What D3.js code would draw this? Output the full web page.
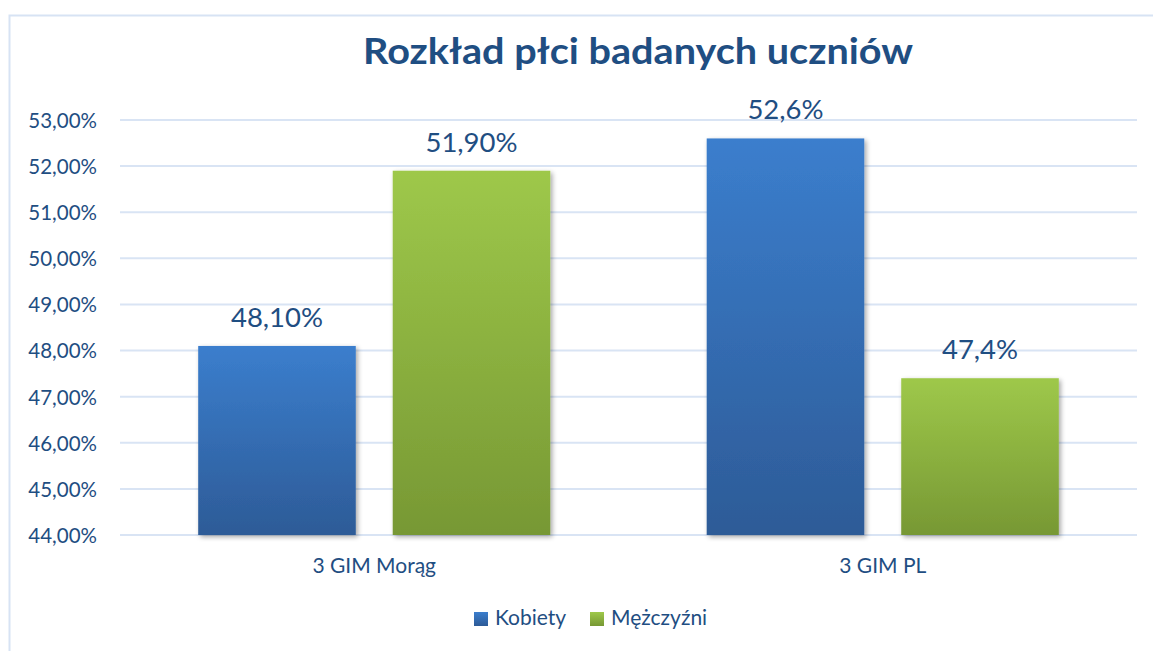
<!DOCTYPE html>
<html lang="pl">
<head>
<meta charset="utf-8">
<script src="https://cdn.jsdelivr.net/npm/d3@7"></script>
<style>
  html, body { margin: 0; padding: 0; background: #fff; }
  svg { display: block; }
  text { font-family: Lato, "Noto Sans", sans-serif; fill: #1f4e82; }
</style>
</head>
<body>
<svg id="chart" width="1153" height="651"></svg>
<script>
// Gender split of surveyed students
const categories = ["3 GIM Morąg", "3 GIM PL"];
const seriesNames = ["Kobiety", "Mężczyźni"];
const kobiety = [48.1, 52.6];
const mezczyzni = [51.9, 47.4];
const valueLabels = [["48,10%", "51,90%"], ["52,6%", "47,4%"]];
const yTicks = [44, 45, 46, 47, 48, 49, 50, 51, 52, 53];
const yTickLabels = ["44,00%", "45,00%", "46,00%", "47,00%", "48,00%", "49,00%", "50,00%", "51,00%", "52,00%", "53,00%"];
const title = "Rozkład płci badanych uczniów";

const svg = d3.select("#chart");
const W = 1153, H = 651;
const plot = { left: 120, right: 1137, top: 120, bottom: 535 };

// gradients + shadow
const defs = svg.append("defs");
const grads = [
  { id: "gBlue", top: "#3b7ecd", bottom: "#2d5b97" },
  { id: "gGreen", top: "#9ec84a", bottom: "#779834" }
];
grads.forEach(g => {
  const lg = defs.append("linearGradient").attr("id", g.id)
    .attr("x1", 0).attr("y1", 0).attr("x2", 0).attr("y2", 1);
  lg.append("stop").attr("offset", "0%").attr("stop-color", g.top);
  lg.append("stop").attr("offset", "100%").attr("stop-color", g.bottom);
});
const f = defs.append("filter").attr("id", "shadow")
  .attr("x", "-10%").attr("y", "-10%").attr("width", "125%").attr("height", "125%");
f.append("feGaussianBlur").attr("in", "SourceAlpha").attr("stdDeviation", 2.5).attr("result", "b");
f.append("feOffset").attr("in", "b").attr("dx", 2).attr("dy", 2).attr("result", "o");
f.append("feComponentTransfer").attr("in", "o").attr("result", "s")
  .append("feFuncA").attr("type", "linear").attr("slope", 0.35);
const fm = f.append("feMerge");
fm.append("feMergeNode").attr("in", "s");
fm.append("feMergeNode").attr("in", "SourceGraphic");

// chart frame
svg.append("path")
  .attr("d", `M${W + 5},15.5 H9.5 V${H + 5}`)
  .attr("fill", "none").attr("stroke", "#d7e3f4").attr("stroke-width", 2);

// scales
const y = d3.scaleLinear().domain([44, 53]).range([plot.bottom, plot.top]);
const x0 = d3.scaleBand().domain(categories).range([plot.left, plot.right]).padding(0);
const x1 = d3.scaleBand().domain(seriesNames).range([0, x0.bandwidth()])
  .paddingInner(0.19).paddingOuter(0.402);

// gridlines
svg.append("g").selectAll("line").data(yTicks).join("line")
  .attr("x1", plot.left).attr("x2", plot.right)
  .attr("y1", d => y(d)).attr("y2", d => y(d))
  .attr("stroke", "#d9e4f4").attr("stroke-width", 2);

// y axis labels
const yAxis = d3.axisLeft(y).tickValues(yTicks)
  .tickFormat((d, i) => yTickLabels[i]).tickSize(0).tickPadding(0);
const yg = svg.append("g").attr("transform", `translate(97,0)`).call(yAxis);
yg.select(".domain").remove();
yg.selectAll("text").attr("font-family", "Lato, sans-serif")
  .attr("font-size", 20.5).attr("fill", "#1f4e82").attr("dy", "0.36em");

// bars
const rows = categories.map((c, i) => ({
  cat: c,
  vals: [
    { s: seriesNames[0], v: kobiety[i], label: valueLabels[i][0], fill: "url(#gBlue)" },
    { s: seriesNames[1], v: mezczyzni[i], label: valueLabels[i][1], fill: "url(#gGreen)" }
  ]
}));
const groups = svg.append("g").selectAll("g").data(rows).join("g")
  .attr("transform", d => `translate(${x0(d.cat)},0)`);
groups.selectAll("rect").data(d => d.vals).join("rect")
  .attr("x", d => x1(d.s)).attr("width", x1.bandwidth())
  .attr("y", d => y(d.v)).attr("height", d => y(44) - y(d.v))
  .attr("fill", d => d.fill).attr("filter", "url(#shadow)");
groups.selectAll("text.val").data(d => d.vals).join("text")
  .attr("class", "val")
  .attr("x", d => x1(d.s) + x1.bandwidth() / 2)
  .attr("y", d => y(d.v) - 19)
  .attr("text-anchor", "middle").attr("font-size", 27.5)
  .text(d => d.label);

// x axis labels
const xAxis = d3.axisBottom(x0).tickSize(0).tickPadding(0);
const xg = svg.append("g").attr("transform", `translate(0,573)`).call(xAxis);
xg.select(".domain").remove();
xg.selectAll("text").attr("font-family", "Lato, sans-serif")
  .attr("font-size", 21).attr("fill", "#1f4e82").attr("dy", 0);

// title
svg.append("text").attr("x", 638).attr("y", 64)
  .attr("text-anchor", "middle").attr("font-size", 36).attr("font-weight", 700)
  .attr("textLength", 550).attr("lengthAdjust", "spacingAndGlyphs")
  .text(title);

// legend
const legendItems = [
  { name: seriesNames[0], fill: "url(#gBlue)", x: 474 },
  { name: seriesNames[1], fill: "url(#gGreen)", x: 590 }
];
const lg = svg.append("g").selectAll("g").data(legendItems).join("g")
  .attr("transform", d => `translate(${d.x},612)`);
lg.append("rect").attr("width", 14).attr("height", 14).attr("fill", d => d.fill);
lg.append("text").attr("x", 21).attr("y", 13).attr("font-size", 21).text(d => d.name);
</script>
</body>
</html>
